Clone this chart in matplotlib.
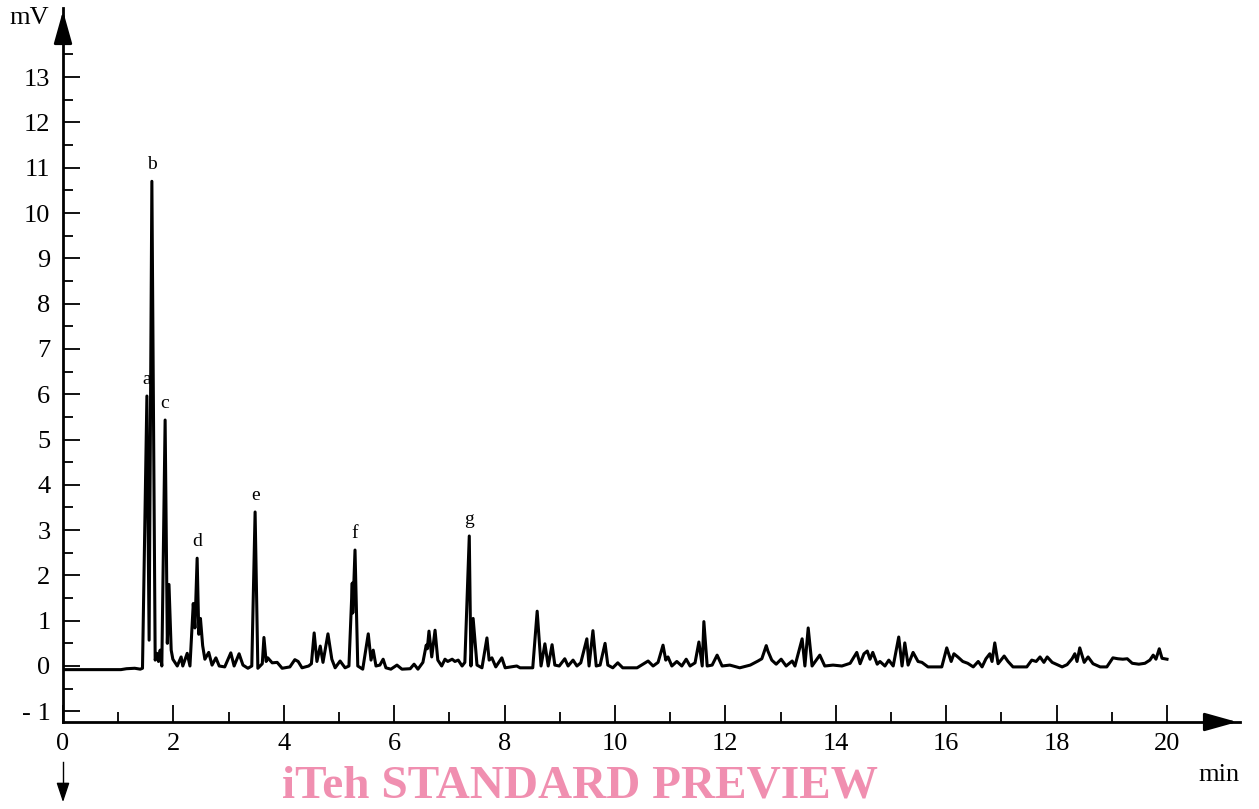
import matplotlib
matplotlib.use("Agg")
import matplotlib.pyplot as plt
import numpy as np

# chromatogram trace (min, mV)
time_min = [
    0.00, 1.05, 1.15, 1.30, 1.40, 1.44, 1.52, 1.56, 1.61, 1.67, 1.70, 1.73, 1.76, 1.79,
    1.85, 1.89, 1.92, 1.96, 1.99, 2.07, 2.14, 2.17, 2.25, 2.30, 2.36, 2.39, 2.43, 2.46,
    2.49, 2.53, 2.57, 2.64, 2.70, 2.77, 2.83, 2.93, 3.04, 3.10, 3.19, 3.26, 3.35, 3.42,
    3.48, 3.53, 3.61, 3.64, 3.68, 3.71, 3.79, 3.88, 3.97, 4.11, 4.20, 4.26, 4.33, 4.45,
    4.50, 4.55, 4.60, 4.66, 4.71, 4.80, 4.87, 4.93, 5.02, 5.11, 5.18, 5.24, 5.25, 5.29,
    5.34, 5.43, 5.53, 5.58, 5.62, 5.67, 5.74, 5.80, 5.85, 5.94, 6.05, 6.14, 6.29, 6.36,
    6.43, 6.52, 6.58, 6.60, 6.63, 6.68, 6.74, 6.79, 6.86, 6.92, 6.97, 7.05, 7.10, 7.16,
    7.23, 7.28, 7.36, 7.39, 7.43, 7.50, 7.59, 7.68, 7.72, 7.77, 7.84, 7.95, 8.01, 8.22,
    8.28, 8.51, 8.59, 8.66, 8.73, 8.79, 8.86, 8.91, 8.99, 9.09, 9.15, 9.24, 9.31, 9.38,
    9.49, 9.53, 9.60, 9.66, 9.73, 9.82, 9.87, 9.96, 10.05, 10.14, 10.40, 10.60, 10.69, 10.78,
    10.87, 10.92, 10.96, 11.03, 11.12, 11.21, 11.29, 11.36, 11.45, 11.52, 11.58, 11.61, 11.67, 11.76,
    11.85, 11.94, 12.08, 12.26, 12.45, 12.59, 12.66, 12.74, 12.77, 12.84, 12.92, 13.01, 13.10, 13.21,
    13.26, 13.39, 13.44, 13.50, 13.57, 13.71, 13.80, 13.95, 14.11, 14.26, 14.38, 14.44, 14.51, 14.57,
    14.62, 14.67, 14.75, 14.80, 14.89, 14.96, 15.04, 15.14, 15.20, 15.25, 15.31, 15.40, 15.49, 15.56,
    15.67, 15.80, 15.92, 16.01, 16.09, 16.14, 16.21, 16.30, 16.39, 16.49, 16.58, 16.65, 16.72, 16.79,
    16.83, 16.88, 16.94, 17.05, 17.12, 17.21, 17.34, 17.46, 17.55, 17.63, 17.70, 17.77, 17.83, 17.92,
    18.01, 18.10, 18.19, 18.28, 18.33, 18.37, 18.42, 18.50, 18.57, 18.66, 18.79, 18.91, 19.02, 19.11,
    19.20, 19.28, 19.37, 19.49, 19.60, 19.69, 19.75, 19.80, 19.86, 19.91, 20.00,
]
signal_mv = [
    -0.08, -0.08, -0.06, -0.05, -0.07, -0.05, 5.96, 0.57, 10.70, 0.13, 0.28, 0.10, 0.35, 0.00,
    5.43, 0.50, 1.80, 0.35, 0.15, 0.00, 0.20, 0.00, 0.28, 0.00, 1.38, 0.84, 2.38, 0.70,
    1.05, 0.45, 0.15, 0.30, 0.02, 0.18, 0.00, -0.02, 0.29, 0.00, 0.27, 0.02, -0.05, 0.00,
    3.40, -0.05, 0.05, 0.63, 0.10, 0.18, 0.07, 0.08, -0.05, -0.02, 0.14, 0.10, -0.04, 0.00,
    0.05, 0.73, 0.10, 0.44, 0.08, 0.71, 0.15, -0.04, 0.11, -0.04, 0.00, 1.83, 1.17, 2.56,
    0.00, -0.07, 0.71, 0.13, 0.35, 0.00, 0.02, 0.15, -0.04, -0.07, 0.02, -0.07, -0.06, 0.04,
    -0.07, 0.08, 0.46, 0.38, 0.77, 0.20, 0.79, 0.13, 0.00, 0.15, 0.10, 0.15, 0.10, 0.13,
    0.00, 0.08, 2.87, 0.00, 1.05, 0.02, -0.04, 0.62, 0.13, 0.18, -0.02, 0.18, -0.04, 0.00,
    -0.04, -0.04, 1.21, 0.00, 0.49, 0.00, 0.47, 0.02, 0.00, 0.16, 0.00, 0.13, 0.00, 0.07,
    0.60, 0.00, 0.78, 0.00, 0.02, 0.50, 0.02, -0.04, 0.07, -0.04, -0.04, 0.11, 0.00, 0.08,
    0.46, 0.13, 0.20, 0.00, 0.10, 0.00, 0.15, 0.00, 0.07, 0.53, 0.00, 0.98, 0.00, 0.02,
    0.24, 0.00, 0.02, -0.04, 0.02, 0.11, 0.16, 0.45, 0.33, 0.13, 0.04, 0.15, 0.00, 0.11,
    0.00, 0.60, 0.00, 0.84, 0.00, 0.24, 0.00, 0.02, 0.00, 0.06, 0.30, 0.05, 0.27, 0.33,
    0.15, 0.30, 0.04, 0.10, 0.00, 0.13, 0.00, 0.64, 0.00, 0.51, 0.02, 0.30, 0.10, 0.08,
    -0.02, -0.02, -0.02, 0.40, 0.10, 0.27, 0.20, 0.10, 0.06, -0.02, 0.10, -0.02, 0.16, 0.27,
    0.10, 0.51, 0.05, 0.22, 0.10, -0.02, -0.02, -0.02, 0.13, 0.10, 0.20, 0.08, 0.20, 0.08,
    0.03, -0.02, 0.03, 0.16, 0.27, 0.10, 0.40, 0.08, 0.20, 0.05, -0.02, -0.02, 0.18, 0.16,
    0.15, 0.16, 0.06, 0.04, 0.06, 0.13, 0.24, 0.15, 0.38, 0.17, 0.15,
]

peak_names = ['a', 'b', 'c', 'd', 'e', 'f', 'g']
peak_times = [1.52, 1.61, 1.85, 2.43, 3.48, 5.29, 7.36]

y_ticks = list(range(-1, 14))
y_labels = ['- 1'] + [str(v) for v in range(0, 14)]
x_ticks = list(range(0, 21, 2))

SERIF = ['Liberation Serif', 'DejaVu Serif']
plt.rcParams['font.family'] = SERIF

W, H = 1259, 809
fig = plt.figure(figsize=(W / 100, H / 100), dpi=100)

# axes box in pixels: left 63, right 1240, top 8, bottom 722
ax = fig.add_axes([63 / W, 1 - 722 / H, (1240 - 63) / W, (722 - 8) / H])
px_per_min = 55.2
px_per_mv = 45.3
ax.set_xlim(0, (1240 - 63) / px_per_min)
ax.set_ylim((666 - 722) / px_per_mv, (666 - 8) / px_per_mv)

ax.plot(time_min, signal_mv, color='black', lw=2.2, solid_joinstyle='round', zorder=3)

# peak letters just above the apexes
t_arr = np.array(time_min)
s_arr = np.array(signal_mv)
for name, t in zip(peak_names, peak_times):
    apex = s_arr[np.argmin(np.abs(t_arr - t))]
    ax.annotate(name, xy=(t, apex), xytext=(0, 12), textcoords='offset points',
                ha='center', va='center', fontsize=14)

# axes look
for side in ['top', 'right']:
    ax.spines[side].set_visible(False)
for side in ['left', 'bottom']:
    ax.spines[side].set_linewidth(2)

ax.set_yticks(y_ticks)
ax.set_yticklabels(y_labels)
ax.set_yticks(np.arange(-0.5, 14, 1), minor=True)
ax.set_xticks(x_ticks)
ax.set_xticks(range(1, 20, 2), minor=True)
ax.tick_params(which='major', direction='in', length=12.5, width=1.3, labelsize=19)
ax.tick_params(which='minor', direction='in', length=7, width=1.3)
ax.tick_params(axis='y', which='major', pad=9)
ax.tick_params(axis='x', which='major', pad=8)

# arrow heads on the axes
ax.annotate('', xy=(1, 0), xytext=(0.97, 0), xycoords='axes fraction',
            arrowprops=dict(arrowstyle='-|>,head_length=1.0,head_width=0.28',
                            mutation_scale=20, color='black', lw=2))
ax.annotate('', xy=(0, 1), xytext=(0, 0.96), xycoords='axes fraction',
            arrowprops=dict(arrowstyle='-|>,head_length=1.0,head_width=0.28',
                            mutation_scale=20, color='black', lw=2))

fig.text(29 / W, 1 - 18 / H, 'mV', ha='center', va='center', fontsize=19)
fig.text(1219 / W, 1 - 775 / H, 'min', ha='center', va='center', fontsize=19)

# small arrow below the origin
fig.add_artist(plt.Line2D([63 / W, 63 / W], [1 - 762 / H, 1 - 795 / H], color='black', lw=1))
fig.patches.append(matplotlib.patches.FancyArrowPatch(
    (63 / W, 1 - 785 / H), (63 / W, 1 - 805 / H), transform=fig.transFigure,
    arrowstyle='-|>,head_length=0.6,head_width=0.2', mutation_scale=20, color='black', lw=1))

# watermark along the bottom edge
fig.text(580 / W, 1 - 797 / H, 'iTeh STANDARD PREVIEW', ha='center', va='baseline',
         fontsize=34, fontweight='bold', color='#f08fb0')

fig.savefig('out.png', dpi=100)
